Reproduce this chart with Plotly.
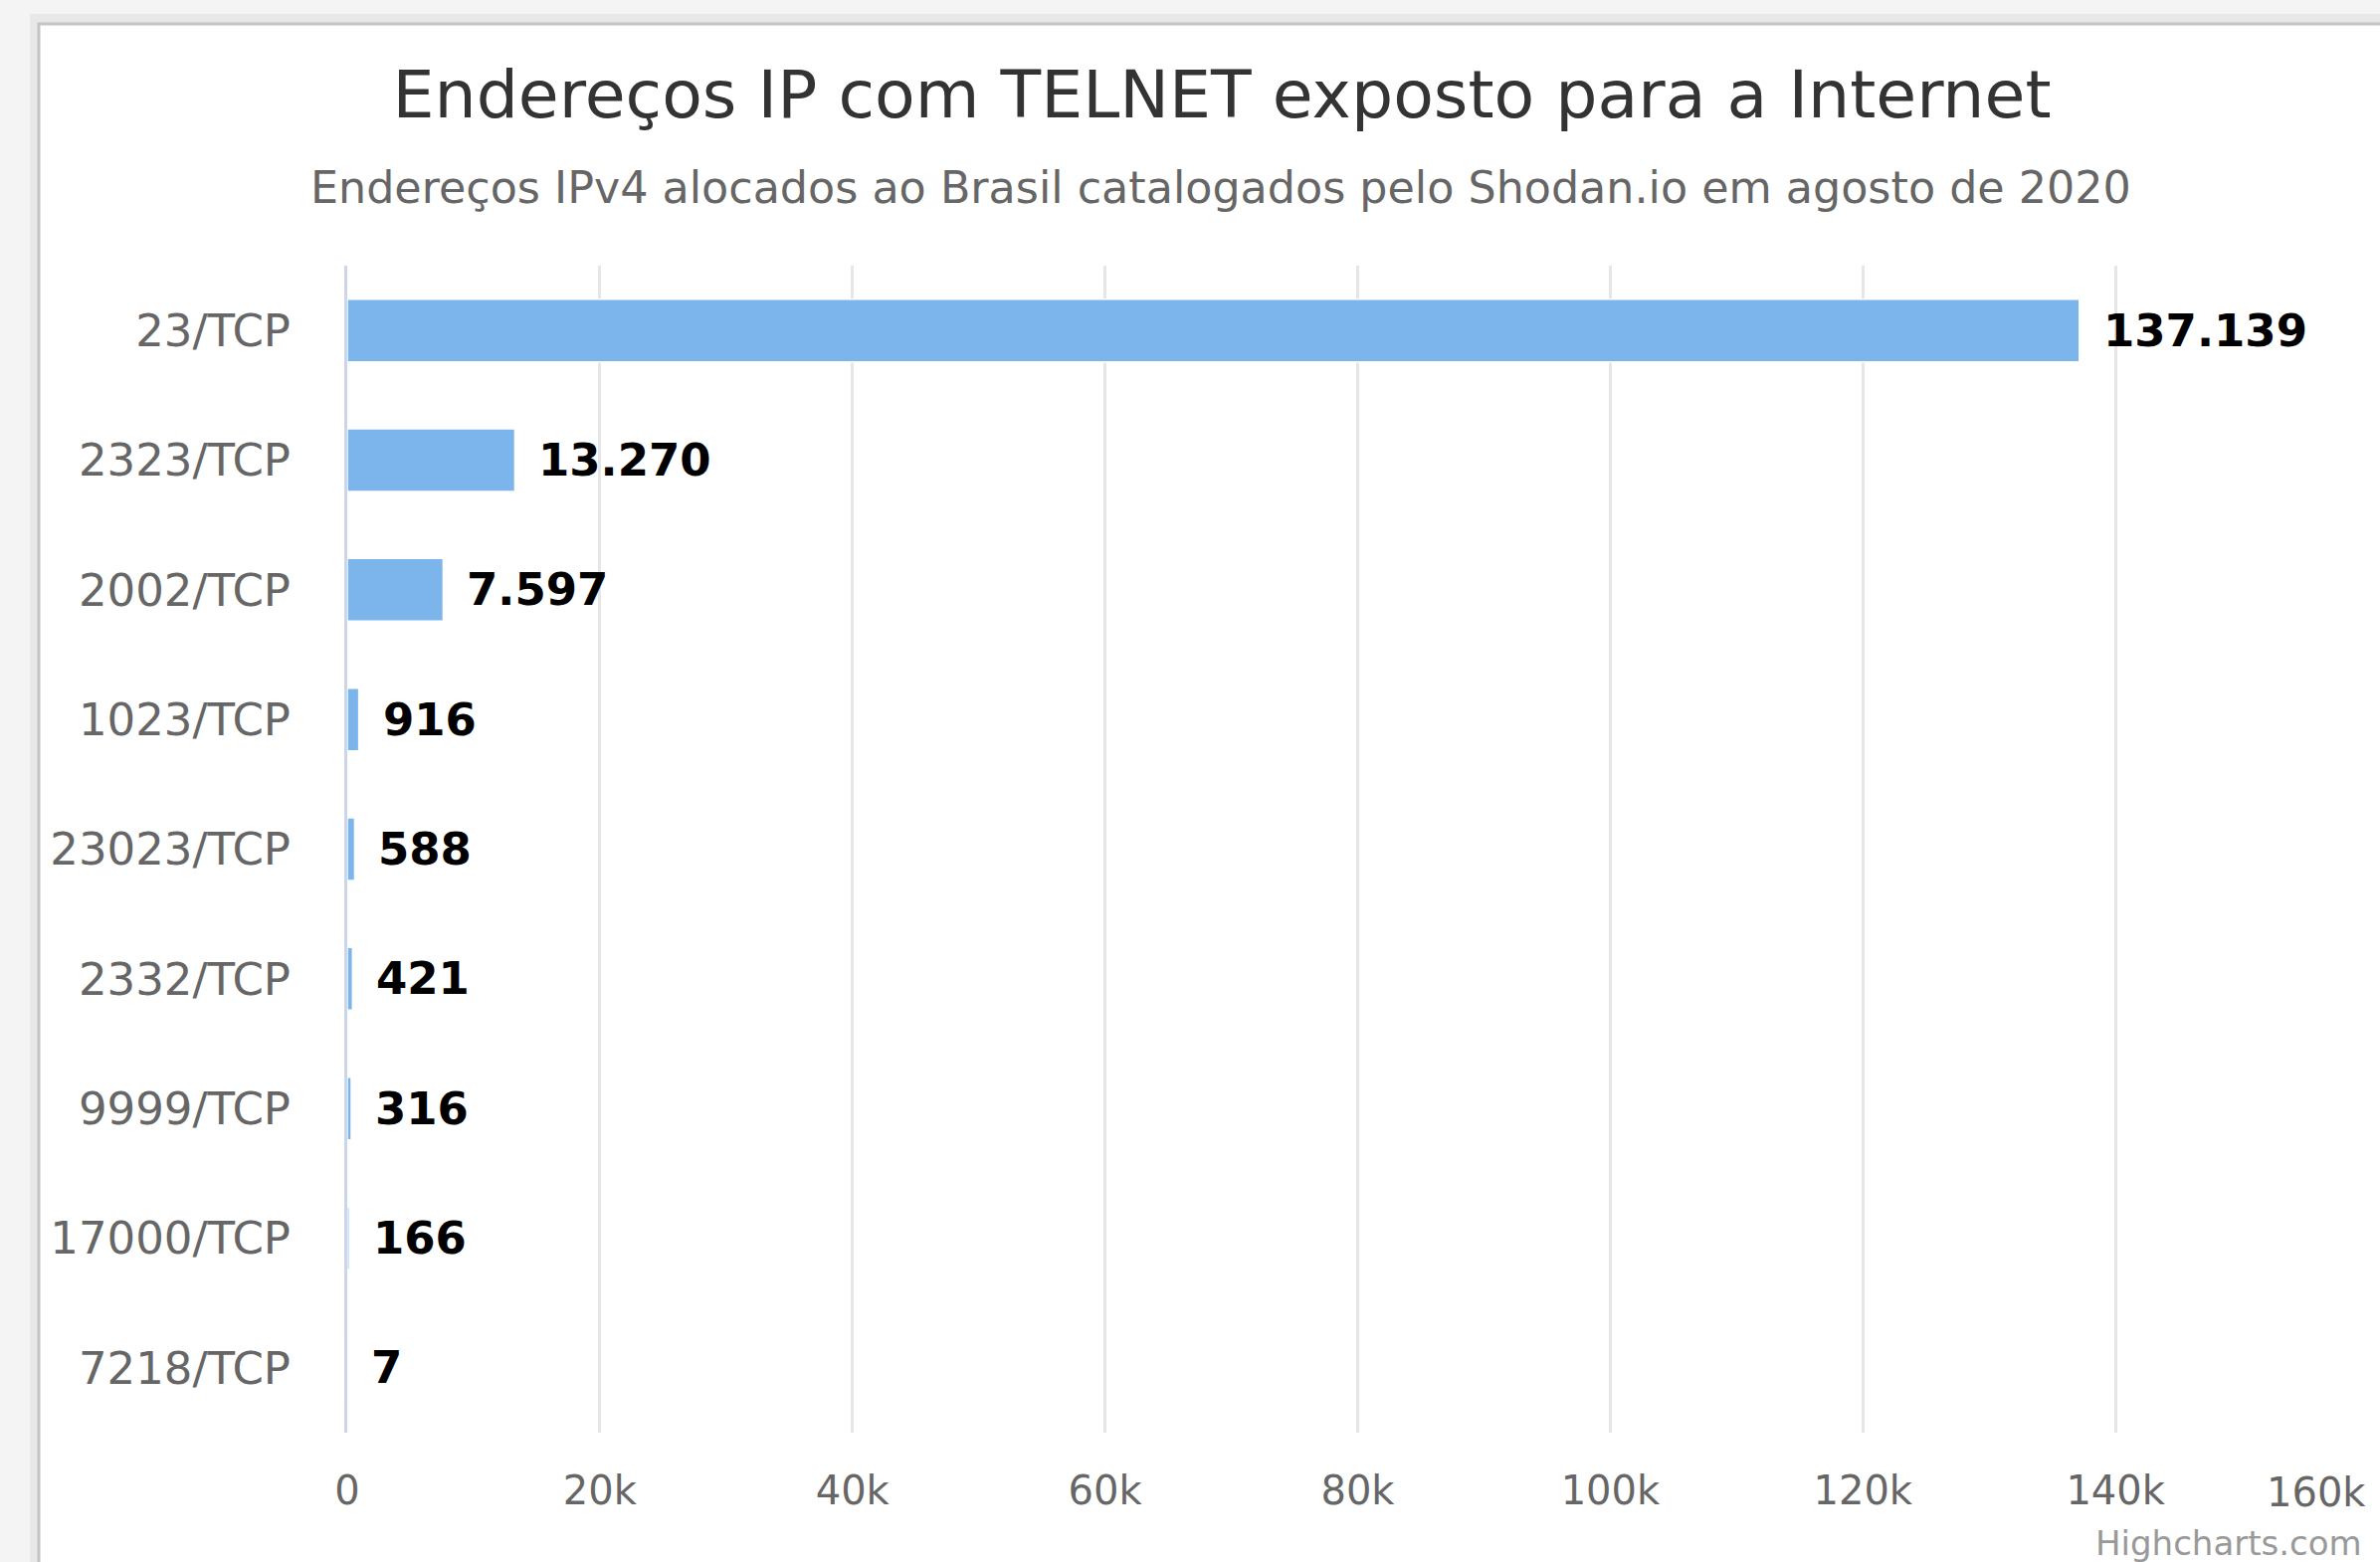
import plotly.graph_objects as go

# dados: portas TELNET expostas (Shodan.io, agosto de 2020)
portas = ["23/TCP", "2323/TCP", "2002/TCP", "1023/TCP", "23023/TCP",
          "2332/TCP", "9999/TCP", "17000/TCP", "7218/TCP"]
enderecos = [137139, 13270, 7597, 916, 588, 421, 316, 166, 7]
eixo_valores = [0, 20000, 40000, 60000, 80000, 100000, 120000, 140000, 160000]
eixo_rotulos = ["0", "20k", "40k", "60k", "80k", "100k", "120k", "140k", "160k"]

titulo = "Endereços IP com TELNET exposto para a Internet"
subtitulo = "Endereços IPv4 alocados ao Brasil catalogados pelo Shodan.io em agosto de 2020"
credito = "Highcharts.com"

W, H = 2392, 1570
ML, MR, MT, MB = 349, 12, 267, 130
PW = W - ML - MR
PH = H - MT - MB
FONTE = "DejaVu Sans"


def px(x):
    return (x - ML) / PW


def py(y):
    return (H - MB - y) / PH


def rotulo(v):
    return f"{v:,}".replace(",", ".")


fig = go.Figure()
fig.add_trace(go.Bar(
    x=enderecos, y=portas, orientation="h",
    marker=dict(color="#7cb5ec", line=dict(color="white", width=1.5)),
    hoverinfo="skip", showlegend=False,
))

# rótulos de dados
for v, p in zip(enderecos, portas):
    fig.add_annotation(x=v, y=p, xref="x", yref="y", text=rotulo(v),
                       showarrow=False, xanchor="left", yanchor="middle", xshift=22,
                       font=dict(family=FONTE, size=45, color="#000000", weight="bold"))

# último rótulo do eixo justificado à direita (como no Highcharts)
fig.add_annotation(x=eixo_valores[-1], y=py(1500), xref="x", yref="paper",
                   text=eixo_rotulos[-1], showarrow=False, xanchor="right", yanchor="middle",
                   font=dict(family=FONTE, size=40, color="#666666"))

fig.add_annotation(x=px(1227), y=py(189), xref="paper", yref="paper", text=subtitulo,
                   showarrow=False, xanchor="center", yanchor="middle",
                   font=dict(family=FONTE, size=44.4, color="#666666"))
fig.add_annotation(x=px(2376), y=py(1551), xref="paper", yref="paper", text=credito,
                   showarrow=False, xanchor="right", yanchor="middle",
                   font=dict(family=FONTE, size=34, color="#999999"))

# moldura da janela com sombra
fig.add_shape(type="rect", xref="paper", yref="paper", layer="below",
              x0=px(30), y0=py(14), x1=px(2450), y1=py(1650),
              fillcolor="#e8e8e8", line=dict(width=0))
fig.add_shape(type="rect", xref="paper", yref="paper", layer="below",
              x0=px(39), y0=py(24), x1=px(2450), y1=py(1650),
              fillcolor="white", line=dict(color="#c4c4c4", width=3))

fig.update_layout(
    width=W, height=H,
    margin=dict(l=ML, r=MR, t=MT, b=MB, pad=0),
    paper_bgcolor="#f4f4f4", plot_bgcolor="rgba(0,0,0,0)",
    bargap=0.516,
    title=dict(text=titulo, x=1228 / W, xref="container", xanchor="center",
               y=1 - 95 / H, yref="container", yanchor="middle",
               font=dict(family=FONTE, size=66.5, color="#333333")),
    xaxis=dict(range=[0, 160000], tickvals=eixo_valores,
               ticktext=eixo_rotulos[:-1] + [""],
               showgrid=True, gridcolor="#e6e6e6", gridwidth=3,
               zeroline=False, showline=False, ticks="",
               ticklabelstandoff=31,
               tickfont=dict(family=FONTE, size=40, color="#666666")),
    yaxis=dict(categoryorder="array", categoryarray=portas, autorange="reversed",
               showgrid=False, zeroline=False, showline=True,
               linecolor="#ccd6eb", linewidth=3, ticks="",
               ticklabelstandoff=45,
               tickfont=dict(family=FONTE, size=45, color="#666666")),
)

# sem a margem padrão do <body>, para a figura ocupar a janela inteira
fig.write_html("out.html", config={"displayModeBar": False}, post_script=[
    "document.body.style.margin='0'; document.body.style.background='#f4f4f4';"
])
